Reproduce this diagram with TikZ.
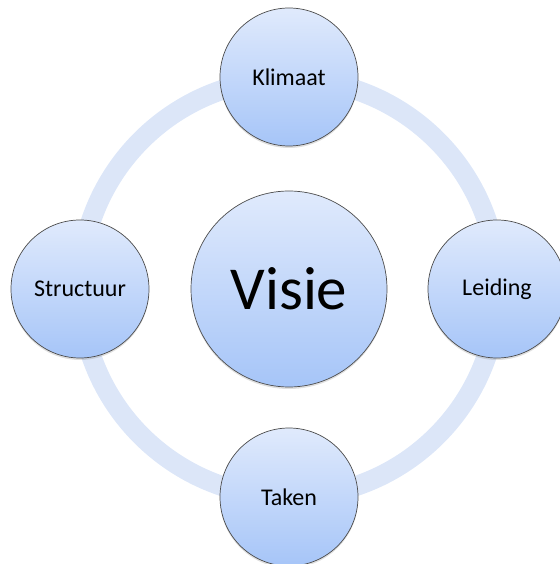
\documentclass[tikz,border=0pt]{standalone}
\usepackage{fontspec}
\setmainfont{Carlito}
\usetikzlibrary{shadows}
\definecolor{ringblue}{RGB}{220,230,248}
\definecolor{topblue}{RGB}{224,234,252}
\definecolor{botblue}{RGB}{166,197,248}

\begin{document}
\begin{tikzpicture}[
    x=1pt, y=1pt,
    bubble/.style={draw=black!70, line width=0.7pt, circle, shading=axis, top color=topblue, bottom color=botblue,
        drop shadow={opacity=0.25, shadow xshift=0pt, shadow yshift=-2pt}, align=center},
    small/.style={bubble, minimum size=138pt, font=\fontsize{24}{28}\selectfont},
    big/.style={bubble, minimum size=196pt, font=\fontsize{61}{70}\selectfont},
    ring/.style={draw=ringblue, line width=20pt}
]
    \useasboundingbox (0,0) rectangle (559,564);

    % Ring
    \coordinate (ctr) at (289,276);
    \draw[ring] (ctr) circle (209);

    % Centre
    \node[big] (visie) at (289,275) {Visie};

    % Outer circles
    \node[small] (klimaat) at (289,487) {Klimaat};
    \node[small] (leiding) at (497,275) {Leiding};
    \node[small] (taken) at (289,67) {Taken};
    \node[small] (structuur) at (80,275) {Structuur};
\end{tikzpicture}
\end{document}
